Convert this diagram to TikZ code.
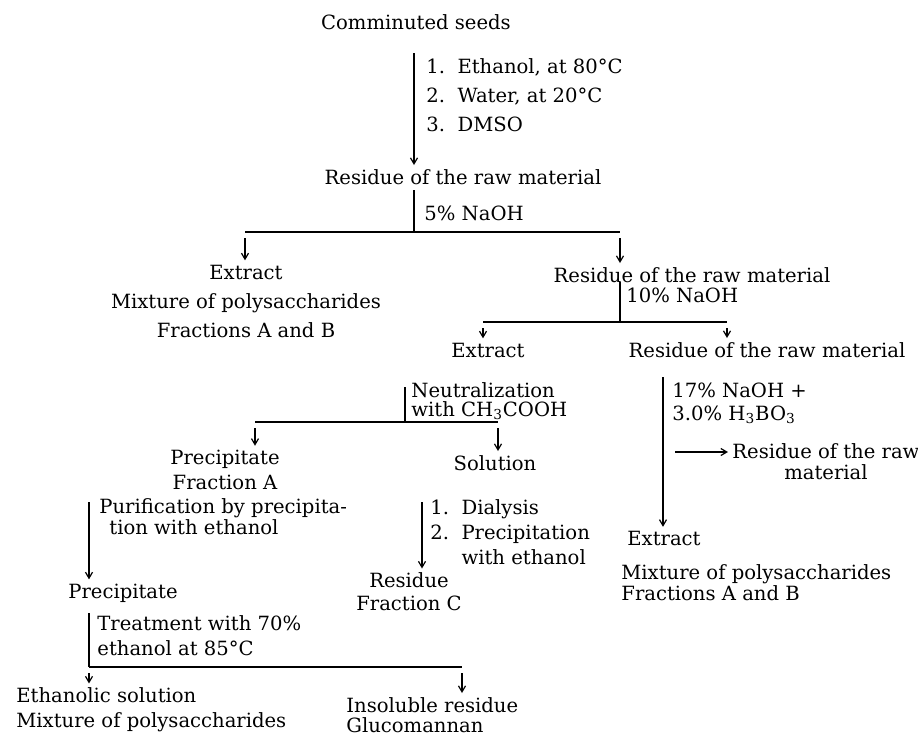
\documentclass[tikz,border=0pt]{standalone}
\usepackage{fontspec}
\setmainfont{DejaVu Serif}
\usetikzlibrary{arrows.meta,calc}
\newcommand{\fsk}[1]{\fontsize{9.8}{#1}\selectfont}

\begin{document}
\begin{tikzpicture}[
x=0.5pt,
y=-0.5pt,
txt/.style={
  inner sep=2pt,
  align=center,
  font=\fsk{14.5pt}
  },
cond/.style={
  txt,
  anchor=west,
  align=left
  },
bar/.style={
  line width=0.9pt
  },
arr/.style={
  line width=0.6pt,
  -{Straight Barb[length=3pt,width=3.5pt]}
  }
]
\useasboundingbox (0,0) rectangle (918,736);

% products
\node[txt] (seeds) at (416,22) {Comminuted seeds};
\node[txt] (res1) at (463,177) {Residue of the raw material};
\node[txt] (ext1) at (246,301) {Extract\\Mixture of polysaccharides\\Fractions A and B};
\node[txt] (res2) at (692,275) {Residue of the raw material};
\node[txt] (ext2) at (488,350) {Extract};
\node[txt] (res3) at (767,350) {Residue of the raw material};
\node[txt,font=\fsk{12.5pt}] (prec1) at (225,470) {Precipitate\\Fraction A};
\node[txt] (sol) at (495,463) {Solution};
\node[txt] (prec2) at (123,593) {Precipitate};
\node[txt,font=\fsk{11.5pt}] (resC) at (409,592) {Residue\\Fraction C};
\node[txt,anchor=west,font=\fsk{10.5pt}] (res4) at (728,462) {Residue of the raw\\material};
\node[cond,font=\fsk{10.5pt}] (ext3) at (617,566) {\hspace*{3pt}Extract\\[6.5pt]Mixture of polysaccharides\\Fractions A and B};
\node[cond,font=\fsk{12.5pt}] (ethsol) at (12,710) {Ethanolic solution\\Mixture of polysaccharides};
\node[cond,font=\fsk{10pt}] (insol) at (342,715) {Insoluble residue\\Glucomannan};

% treatments
\node[cond] (lab1) at (422,95) {1.\ \ Ethanol, at 80°C\\2.\ \ Water, at 20°C\\3.\ \ DMSO};
\node[cond] (lab2) at (420,213) {5\% NaOH};
\node[cond] (lab3) at (622,295) {10\% NaOH};
\node[cond,font=\fsk{9.5pt}] (lab4) at (407,401) {Neutralization\\with CH\textsubscript{3}COOH};
\node[cond,font=\fsk{10.5pt}] (lab5) at (95,517) {Purification by precipita-\\\hspace*{5pt}tion with ethanol};
\node[cond,font=\fsk{12.5pt}] (lab6) at (93,636) {Treatment with 70\%\\ethanol at 85°C};
\node[cond,font=\fsk{11.5pt}] (lab7) at (668,403) {17\% NaOH +\\3.0\% H\textsubscript{3}BO\textsubscript{3}};
\node[cond,font=\fsk{12.5pt}] (lab8) at (426,532) {1.\ \ Dialysis\\2.\ \ Precipitation\\\phantom{2.\ \ }with ethanol};

% trunks and bars
\coordinate (t1) at (414,53);
\coordinate (t2) at (414,190);
\coordinate (t3) at (620,282);
\coordinate (t4) at (405,387);
\coordinate (t5) at (89,502);
\coordinate (t6) at (422,502);
\coordinate (t7) at (663,377);
\coordinate (t8) at (89,613);
\coordinate (t9) at (675,452);
\coordinate (b1l) at (245,232);
\coordinate (b1r) at (620,232);
\coordinate (b2l) at (483,322);
\coordinate (b2r) at (727,322);
\coordinate (b3l) at (255,422);
\coordinate (b3r) at (498,422);
\coordinate (b4l) at (89,667);
\coordinate (b4r) at (462,667);

\draw[bar,arr] (t1) -- (t1 |- res1.north);
\draw[bar,arr] (t5) -- (t5 |- prec2.north);
\draw[bar,arr] (t6) -- (t6 |- resC.north);
\draw[bar,arr] (t7) -- (t7 |- ext3.north);
\draw[arr] (t9) -- (res4.west |- t9);

\draw[bar] (t2) -- (t2 |- b1l) (b1l) -- (b1r);
\draw[bar] (t3) -- (t3 |- b2l) (b2l) -- (b2r);
\draw[bar] (t4) -- (t4 |- b3l) (b3l) -- (b3r);
\draw[bar] (t8) -- (t8 |- b4l) (b4l) -- (b4r);

\draw[arr] ([yshift=-3pt]b1l) -- (b1l |- ext1.north);
\draw[arr] ([yshift=-3pt]b1r) -- (b1r |- res2.north);
\draw[arr] ([yshift=-3pt]b2l) -- (b2l |- ext2.north);
\draw[arr] ([yshift=-3pt]b2r) -- (b2r |- res3.north);
\draw[arr] ([yshift=-3pt]b3l) -- (b3l |- prec1.north);
\draw[arr] ([yshift=-3pt]b3r) -- (b3r |- sol.north);
\draw[arr] ([yshift=-3pt]b4l) -- (b4l |- ethsol.north);
\draw[arr] ([yshift=-3pt]b4r) -- (b4r |- insol.north);
\end{tikzpicture}
\end{document}
